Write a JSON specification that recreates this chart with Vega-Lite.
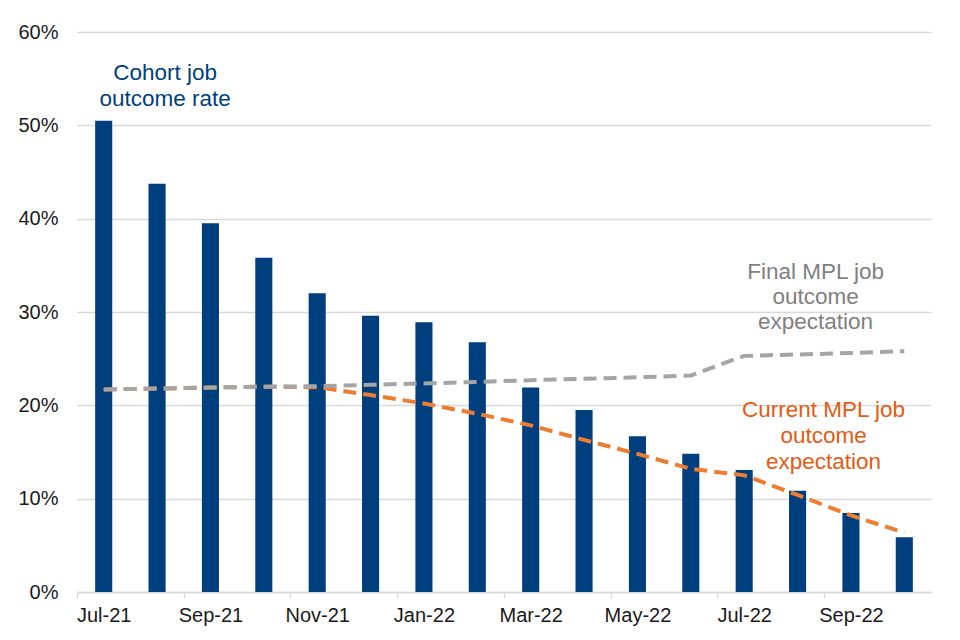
{
  "$schema": "https://vega.github.io/schema/vega-lite/v6.json",
  "width": 854,
  "height": 560,
  "autosize": "none",
  "padding": {"left": 77, "top": 32, "right": 29, "bottom": 48},
  "background": "white",
  "config": {
    "view": {"stroke": null},
    "font": "Liberation Sans",
    "axis": {"labelFont": "Liberation Sans", "labelFontSize": 20, "labelColor": "#1a1a1a"}
  },
  "datasets": {
    "series": [
      {"month": "Jul-21", "cohort": 50.5, "final": 21.7, "current": 21.7},
      {"month": "Aug-21", "cohort": 43.75, "final": 21.8, "current": 21.8},
      {"month": "Sep-21", "cohort": 39.5, "final": 21.9, "current": 21.9},
      {"month": "Oct-21", "cohort": 35.8, "final": 22.0, "current": 22.0},
      {"month": "Nov-21", "cohort": 32.0, "final": 22.05, "current": 21.95},
      {"month": "Dec-21", "cohort": 29.6, "final": 22.2, "current": 21.1},
      {"month": "Jan-22", "cohort": 28.9, "final": 22.35, "current": 20.2},
      {"month": "Feb-22", "cohort": 26.75, "final": 22.5, "current": 19.1},
      {"month": "Mar-22", "cohort": 21.9, "final": 22.7, "current": 17.85},
      {"month": "Apr-22", "cohort": 19.5, "final": 22.85, "current": 16.3},
      {"month": "May-22", "cohort": 16.7, "final": 23.0, "current": 14.8},
      {"month": "Jun-22", "cohort": 14.8, "final": 23.2, "current": 13.2},
      {"month": "Jul-22", "cohort": 13.07, "final": 25.3, "current": 12.5},
      {"month": "Aug-22", "cohort": 10.86, "final": 25.45, "current": 10.4},
      {"month": "Sep-22", "cohort": 8.47, "final": 25.6, "current": 8.2},
      {"month": "Oct-22", "cohort": 5.86, "final": 25.8, "current": 6.36}
    ],
    "notes": [
      {"month": "Aug-21", "value": 55.6, "text": "Cohort job", "series": "cohort"},
      {"month": "Aug-21", "value": 52.8, "text": "outcome rate", "series": "cohort"},
      {"month": "Aug-22", "value": 34.26, "text": "Final MPL job", "series": "final"},
      {"month": "Aug-22", "value": 31.6, "text": "outcome", "series": "final"},
      {"month": "Aug-22", "value": 28.9, "text": "expectation", "series": "final"},
      {"month": "Aug-22", "value": 19.47, "text": "Current MPL job", "series": "current"},
      {"month": "Aug-22", "value": 16.68, "text": "outcome", "series": "current"},
      {"month": "Aug-22", "value": 13.93, "text": "expectation", "series": "current"}
    ]
  },
  "encoding": {
    "x": {
      "field": "month",
      "type": "ordinal",
      "sort": null,
      "title": null,
      "scale": {"paddingInner": 0.68, "paddingOuter": 0.34},
      "axis": {
        "values": ["Jul-21", "Sep-21", "Nov-21", "Jan-22", "Mar-22", "May-22", "Jul-22", "Sep-22"],
        "labelAngle": 0,
        "tickOffset": -26.69,
        "labelOffset": 26.69,
        "tickSize": 6,
        "tickColor": "#D9D9D9",
        "tickWidth": 1.3,
        "domainColor": "#D9D9D9",
        "domainWidth": 1.3,
        "labelPadding": 7,
        "grid": false
      }
    }
  },
  "layer": [
    {
      "data": {"name": "series"},
      "mark": {"type": "bar", "color": "#003F7D"},
      "encoding": {
        "y": {
          "field": "cohort",
          "type": "quantitative",
          "title": null,
          "scale": {"domain": [0, 60], "nice": false},
          "axis": {
            "values": [0, 10, 20, 30, 40, 50, 60],
            "labelExpr": "datum.value + '%'",
            "domain": false,
            "ticks": false,
            "labelPadding": 19,
            "gridColor": "#D9D9D9",
            "gridWidth": 1.3
          }
        }
      }
    },
    {
      "data": {"name": "series"},
      "mark": {"type": "line", "color": "#ED7D31", "strokeWidth": 4, "strokeDash": [13, 7]},
      "encoding": {"y": {"field": "current", "type": "quantitative"}}
    },
    {
      "data": {"name": "series"},
      "mark": {"type": "line", "color": "#A5A5A5", "strokeWidth": 4, "strokeDash": [13, 7]},
      "encoding": {"y": {"field": "final", "type": "quantitative"}}
    },
    {
      "data": {"name": "notes"},
      "transform": [{"filter": "datum.series === 'cohort'"}],
      "mark": {"type": "text", "fontSize": 22.5, "align": "center", "baseline": "middle", "font": "Liberation Sans", "color": "#003F7D", "dx": 8},
      "encoding": {
        "y": {"field": "value", "type": "quantitative"},
        "text": {"field": "text"}
      }
    },
    {
      "data": {"name": "notes"},
      "transform": [{"filter": "datum.series === 'final'"}],
      "mark": {"type": "text", "fontSize": 22.5, "align": "center", "baseline": "middle", "font": "Liberation Sans", "color": "#7F7F7F", "dx": 18},
      "encoding": {
        "y": {"field": "value", "type": "quantitative"},
        "text": {"field": "text"}
      }
    },
    {
      "data": {"name": "notes"},
      "transform": [{"filter": "datum.series === 'current'"}],
      "mark": {"type": "text", "fontSize": 22.5, "align": "center", "baseline": "middle", "font": "Liberation Sans", "color": "#E65A12", "dx": 26},
      "encoding": {
        "y": {"field": "value", "type": "quantitative"},
        "text": {"field": "text"}
      }
    }
  ]
}
